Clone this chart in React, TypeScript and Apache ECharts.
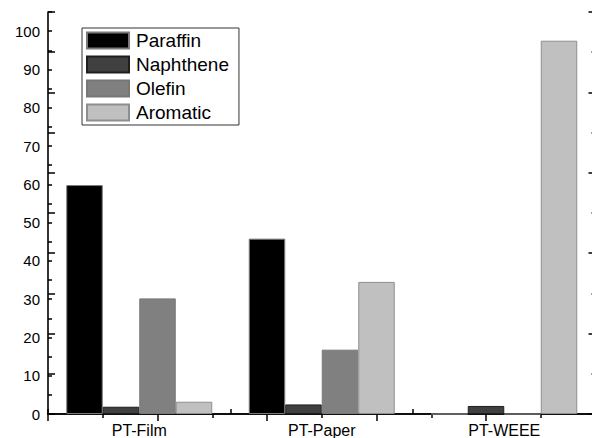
import React, { useEffect, useRef } from "react";
import * as echarts from "echarts";

const categories = ["PT-Film", "PT-Paper", "PT-WEEE"];
const paraffin = [59.8, 45.8, 0];
const naphthene = [1.9, 2.5, 2.1];
const olefin = [30.2, 16.8, 0];
const aromatic = [3.2, 34.5, 97.5];
const seriesNames = ["Paraffin", "Naphthene", "Olefin", "Aromatic"];
const fills = ["#000000", "#404040", "#808080", "#c0c0c0"];
const borders = ["#7a7a7a", "#1e1e1e", "#777777", "#8e8e8e"];

const FONT = 'Arial, "Liberation Sans", sans-serif';

export default function App() {
  const ref = useRef<HTMLDivElement>(null);
  useEffect(() => {
    document.body.style.margin = "0";
    const chart = echarts.init(ref.current!, null, { renderer: "svg" });
    const data = [paraffin, naphthene, olefin, aromatic];
    const axisLine = { show: true, lineStyle: { color: "#000", width: 1.6 } };
    chart.setOption({
      animation: false,
      backgroundColor: "#fff",
      textStyle: { fontFamily: FONT },
      grid: { left: 48, top: 12, width: 547.5, height: 402, containLabel: false, outerBoundsMode: "none" },
      legend: {
        left: 82,
        top: 28,
        orient: "vertical",
        itemWidth: 42,
        itemHeight: 16,
        itemGap: 5,
        borderColor: "#333",
        borderWidth: 1,
        padding: [3, 10, 3, 4],
        icon: "rect",
        textStyle: { fontSize: 19, color: "#000", fontFamily: FONT, padding: [0, 0, 0, 2] },
        data: seriesNames,
      },
      xAxis: [
        {
          type: "category",
          data: categories,
          position: "bottom",
          axisLine,
          axisTick: { show: true, inside: true, length: 5, lineStyle: { color: "#000", width: 1.5 } },
          axisLabel: { fontSize: 16, color: "#000", margin: 8, fontFamily: FONT },
          splitLine: { show: false },
        },
        {
          type: "value",
          position: "top",
          min: 0,
          max: 1,
          interval: 0.2,
          axisLine,
          axisTick: { show: true, inside: true, length: 7, lineStyle: { color: "#000", width: 1.5 } },
          minorTick: { show: true, splitNumber: 2, length: 4, lineStyle: { color: "#000", width: 1.5 } },
          axisLabel: { show: false },
          splitLine: { show: false },
        },
      ],
      yAxis: [
        {
          type: "value",
          position: "left",
          min: 0,
          max: 105,
          interval: 5,
          axisLine,
          axisTick: { show: true, inside: true, length: 4, lineStyle: { color: "#000", width: 1.5 } },
          axisLabel: {
            fontSize: 15,
            color: "#000",
            margin: 8,
            fontFamily: FONT,
            formatter: (v: number) => (v % 10 === 0 && v <= 100 ? String(v) : ""),
          },
          splitLine: { show: false },
        },
        {
          type: "value",
          position: "left",
          min: 0,
          max: 100,
          interval: 10,
          axisLine: { show: false },
          axisTick: { show: true, inside: true, length: 7, lineStyle: { color: "#000", width: 1.5 } },
          axisLabel: { show: false },
          splitLine: { show: false },
        },
        {
          type: "value",
          position: "right",
          min: 0,
          max: 1,
          interval: 0.2,
          axisLine,
          axisTick: { show: true, inside: true, length: 7, lineStyle: { color: "#000", width: 1.5 } },
          minorTick: { show: true, splitNumber: 2, length: 4, lineStyle: { color: "#000", width: 1.5 } },
          axisLabel: { show: false },
          splitLine: { show: false },
        },
      ],
      series: seriesNames.map((name, i) => ({
        name,
        type: "bar",
        xAxisIndex: 0,
        yAxisIndex: 0,
        data: data[i],
        barGap: "0%",
        barCategoryGap: "20%",
        itemStyle: { color: fills[i], borderColor: borders[i], borderWidth: 1 },
      })),
    });
    return () => chart.dispose();
  }, []);
  return <div ref={ref} style={{ position: "fixed", left: 0, top: 0, width: 592, height: 438 }} />;
}
